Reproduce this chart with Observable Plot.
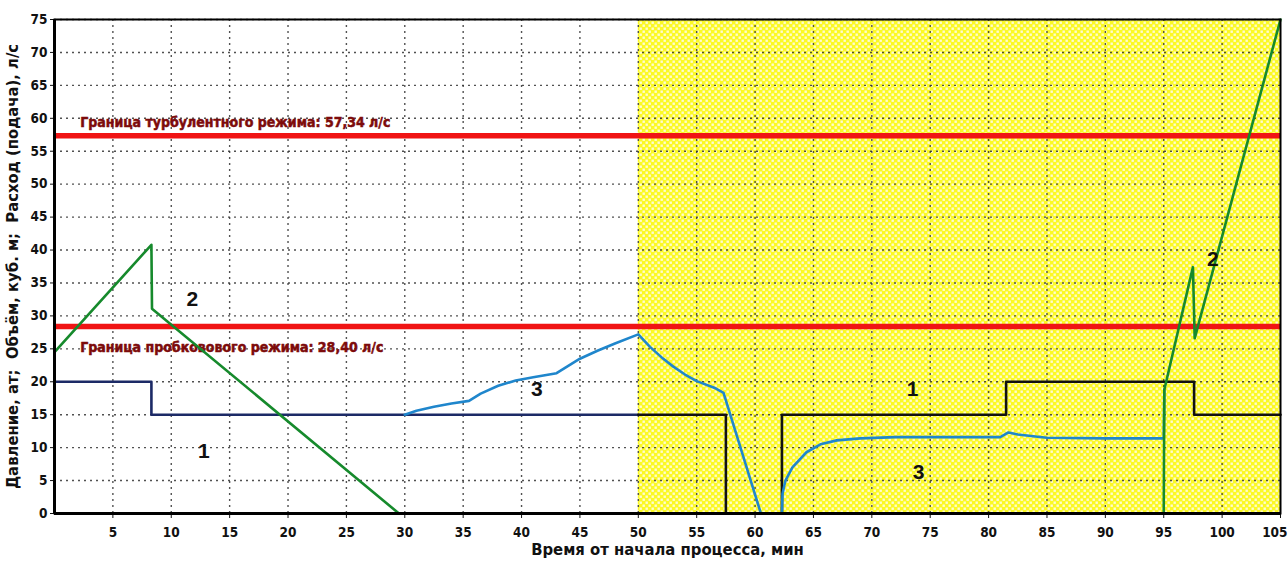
<!DOCTYPE html>
<html><head><meta charset="utf-8">
<script src="https://cdn.jsdelivr.net/npm/d3@7"></script>
<script src="https://cdn.jsdelivr.net/npm/@observablehq/plot@0.6"></script>
<style>body{margin:0;background:#fff} svg{display:block}</style>
</head><body><div id="chart"></div>
<script>
// ---- data ----
const xTicks = [5,10,15,20,25,30,35,40,45,50,55,60,65,70,75,80,85,90,95,100,105];
const yTicks = [0,5,10,15,20,25,30,35,40,45,50,55,60,65,70,75];
const xDomain = [0, 105];
const yDomain = [0, 75];
const yellowZone = [50, 105];

// 1 — pressure, at
const pressureTime  = [0, 8.3, 8.3, 57.5, 57.5, 62.3, 62.3, 81.5, 81.5, 97.6, 97.6, 105];
const pressureValue = [20, 20, 15, 15, 0, 0, 15, 15, 20, 20, 15, 15];

// 2 — volume, m3
const volumeTime  = [0, 8.3, 8.35, 29.5, 95.0, 95.05, 97.5, 97.65, 105];
const volumeValue = [24.5, 40.8, 31.1, 0, 0, 18.8, 37.4, 26.6, 75];

// 3 — flow (supply), l/s
const flowTime  = [30, 31, 32.5, 34, 35.5, 36.5, 38, 39.5, 41, 43, 44, 45, 46.5, 48, 50,
                   51, 52, 53, 54, 55, 56.5, 57.3, 60.5, 62.3, 62.35, 62.6, 63.2, 64.4, 65.6,
                   67, 69, 72, 75, 81, 81.7, 82.5, 84, 85, 90, 95.0, 95.05];
const flowValue = [15, 15.6, 16.2, 16.7, 17.1, 18.2, 19.4, 20.2, 20.7, 21.3, 22.4, 23.5, 24.7, 25.8, 27.2,
                   25.3, 23.7, 22.3, 21.1, 20.1, 19.1, 18.3, 0, 0, 3, 5, 7, 9.3, 10.5,
                   11.1, 11.4, 11.6, 11.6, 11.6, 12.3, 12.0, 11.7, 11.5, 11.4, 11.4, 18.8];

const boundaryValue = [57.34, 28.40];
const boundaryText  = ["Граница турбулентного режима: 57,34 л/с", "Граница пробковового режима: 28,40 л/с"];
const boundaryLabelX = [2.2, 2.2];
const boundaryLabelY = [59.3, 25.2];

const seriesLabelText = ["2", "1", "3", "1", "3", "2"];
const seriesLabelX = [11.8, 12.8, 41.3, 73.5, 74.0, 99.2];
const seriesLabelY = [32.6, 9.4, 18.8, 18.8, 6.2, 38.6];

const yTitle = "Давление, ат;  Объём, куб. м;  Расход (подача), л/с";
const xTitle = "Время от начала процесса, мин";

// ---- build tables ----
const toRows = (ts, vs) => ts.map((t, i) => ({t, v: vs[i]}));
const pressure = toRows(pressureTime, pressureValue);
const volume = toRows(volumeTime, volumeValue);
const flow = toRows(flowTime, flowValue);

function splitAt(rows, x0) {
  let vAt = null;
  for (let i = 0; i < rows.length - 1; i++) {
    const a = rows[i], b = rows[i + 1];
    if (a.t <= x0 && b.t >= x0 && b.t > a.t) { vAt = a.v + (b.v - a.v) * (x0 - a.t) / (b.t - a.t); break; }
  }
  const left = rows.filter(d => d.t < x0).concat([{t: x0, v: vAt}]);
  const right = [{t: x0, v: vAt}].concat(rows.filter(d => d.t > x0));
  return [left, right];
}
const [pressureLeft, pressureRight] = splitAt(pressure, yellowZone[0]);

const zone = [{x1: yellowZone[0], x2: yellowZone[1], y1: yDomain[0], y2: yDomain[1]}];
const boundaries = boundaryValue.map((v, i) => ({v, text: boundaryText[i], x: boundaryLabelX[i], y: boundaryLabelY[i]}));
const seriesLabels = seriesLabelText.map((s, i) => ({s, x: seriesLabelX[i], y: seriesLabelY[i]}));
const lastTick = xTicks[xTicks.length - 1];

const font = "'DejaVu Sans Condensed','DejaVu Sans',sans-serif";

const chart = Plot.plot({
  width: 1288, height: 562,
  marginLeft: 54, marginRight: 8, marginTop: 19, marginBottom: 49,
  x: {domain: xDomain},
  y: {domain: yDomain},
  style: {fontFamily: font, fontSize: "13px", fontWeight: "bold", color: "#111", background: "#fff"},
  marks: [
    Plot.rect(zone, {x1: "x1", x2: "x2", y1: "y1", y2: "y2", fill: "url(#chk)"}),
    Plot.gridX(xTicks.filter(d => d < xDomain[1]), {stroke: "#333", strokeOpacity: 0.85, strokeDasharray: "2,4", strokeWidth: 1.4}),
    Plot.gridY(yTicks.filter(d => d > yDomain[0]), {stroke: "#333", strokeOpacity: 0.85, strokeDasharray: "2,4", strokeWidth: 1.4}),
    Plot.ruleY(boundaries, {y: "v", stroke: "#f01414", strokeWidth: 5.5}),
    Plot.text(boundaries, {x: "x", y: "y", text: "text", textAnchor: "start", fill: "#7d0b0b", fontSize: 14, fontWeight: "bold", stroke: "#7d0b0b", strokeWidth: 0.5}),
    Plot.line(pressureLeft, {x: "t", y: "v", stroke: "#1c2a66", strokeWidth: 2.6}),
    Plot.line(pressureRight, {x: "t", y: "v", stroke: "#111", strokeWidth: 2.6}),
    Plot.line(flow, {x: "t", y: "v", stroke: "#1f86cc", strokeWidth: 2.6}),
    Plot.line(volume, {x: "t", y: "v", stroke: "#168a2c", strokeWidth: 2.6}),
    Plot.text(seriesLabels, {x: "x", y: "y", text: "s", fontSize: 21, fontWeight: "bold", fill: "#111", fontFamily: "'Liberation Sans',Arial,sans-serif"}),
    Plot.axisX({ticks: xTicks, tickSize: 5, tickPadding: 9, label: null, fontSize: 13.5, tickFormat: d => d === lastTick ? "" : d}),
    Plot.axisX([lastTick], {tickSize: 0, tickPadding: 14, label: null, fontSize: 13.5, textAnchor: "end", dx: 7}),
    Plot.axisY({ticks: yTicks, tickSize: 4, tickPadding: 3, label: null, fontSize: 13.5}),
    Plot.text([yTitle], {text: d => d, frameAnchor: "left", dx: -42, rotate: -90, textAnchor: "middle", fontSize: 16.5, fontWeight: "bold"}),
    Plot.text([xTitle], {text: d => d, frameAnchor: "bottom", dy: 41, textAnchor: "middle", fontSize: 16.5, fontWeight: "bold"}),
    Plot.frame({stroke: "#000", strokeWidth: 2}),
    Plot.ruleX([xDomain[0]], {stroke: "#000", strokeWidth: 3}),
    Plot.ruleY([yDomain[0]], {stroke: "#000", strokeWidth: 3})
  ]
});

// checker pattern for the shaded zone
const defs = d3.select(chart).insert("defs", ":first-child");
const pat = defs.append("pattern").attr("id", "chk").attr("patternUnits", "userSpaceOnUse")
  .attr("width", 6).attr("height", 6);
pat.append("rect").attr("width", 6).attr("height", 6).attr("fill", "#fbf925");
pat.append("rect").attr("x", 0.5).attr("y", 0.5).attr("width", 2.4).attr("height", 2.4).attr("fill", "#fffcd0");
pat.append("rect").attr("x", 3.5).attr("y", 3.5).attr("width", 2.4).attr("height", 2.4).attr("fill", "#fffcd0");

document.getElementById("chart").appendChild(chart);
</script>
</body></html>
